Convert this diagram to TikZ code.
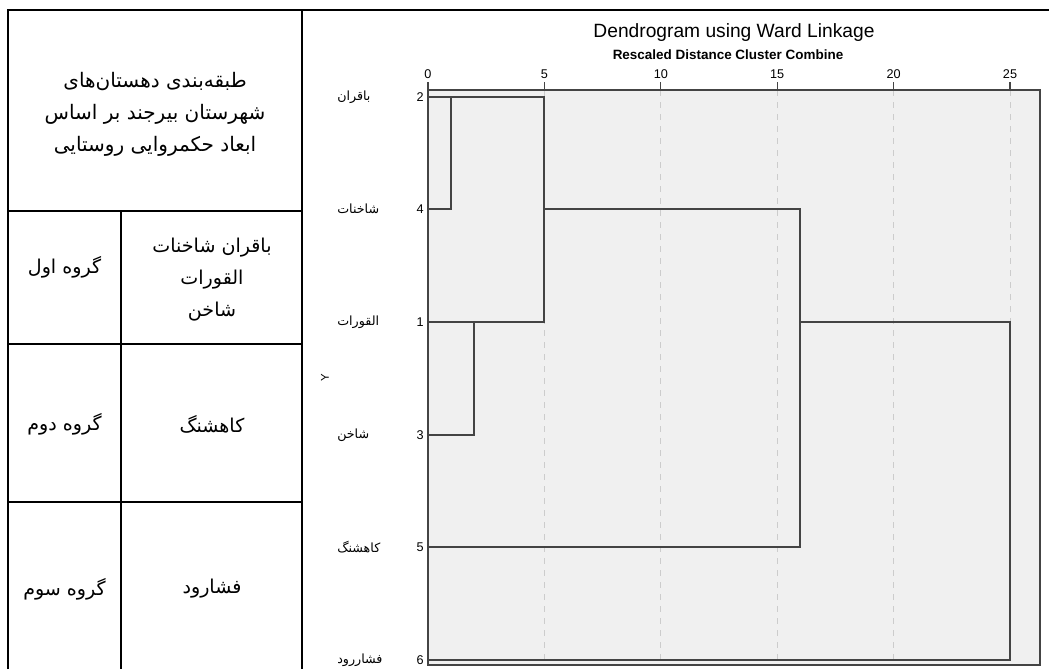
\documentclass[tikz,border=0pt]{standalone}
\usepackage{fontspec}
\setmainfont{Liberation Sans}
\newfontfamily\farsi[Script=Arabic]{DejaVu Sans}
\TeXXeTstate=1
\newcommand{\fa}[1]{{\farsi\beginR #1\endR}}
\definecolor{plotbg}{HTML}{F0F0F0}
\definecolor{linkgray}{HTML}{444444}
\tikzset{
	rule/.style={line width=1.5pt,black},
	cell/.style={align=center,font=\farsi\fontsize{14.3}{24}\selectfont},
	leaf/.style={anchor=west,inner sep=0pt,font=\farsi\fontsize{9.5}{10}\selectfont},
	num/.style={anchor=east,inner sep=0pt,font=\fontsize{9.5}{10}\selectfont},
	link/.style={draw=linkgray,line width=1.1pt},
	gridline/.style={draw=black!20,line width=0.75pt,dash pattern=on 4.5pt off 4.5pt},
}
\begin{document}
\begin{tikzpicture}[x=0.75pt,y=-0.75pt]
	\useasboundingbox (0,0) rectangle (1049,669);
	% table
	\draw[rule] (8,669) -- (8,10) -- (1049,10);
	\draw[rule] (302,10) -- (302,669);
	\draw[rule] (121,211) -- (121,669);
	\foreach \y in {211,344,502} \draw[rule] (8,\y) -- (302,\y);
	\node[cell,font=\farsi\fontsize{15}{24}\selectfont] (head) at (155,114) {\fa{طبقه‌بندی دهستان‌های}\\\fa{شهرستان بیرجند بر اساس}\\\fa{ابعاد حکمروایی روستایی}};
	\node[cell] (g1) at (212,280) {\fa{باقران شاخنات}\\\fa{القورات}\\\fa{شاخن}};
	\node[cell] (n1) at (64.5,267) {\fa{گروه اول}};
	\node[cell] (g2) at (212,424) {\fa{کاهشنگ}};
	\node[cell] (n2) at (64.5,424) {\fa{گروه دوم}};
	\node[cell] (g3) at (212,589) {\fa{فشارود}};
	\node[cell] (n3) at (64.5,589) {\fa{گروه سوم}};
	% dendrogram
	\fill[plotbg] (428,90) rectangle (1040,665);
	\foreach \t in {5,10,...,25} \draw[gridline] (428+23.28*\t,90) -- (428+23.28*\t,665);
	\draw[draw=linkgray,line width=1pt] (428,90) rectangle (1040,665);
	\foreach \t in {0,5,...,25} {
		\draw[draw=linkgray,line width=1pt] (428+23.28*\t,82) -- (428+23.28*\t,90);
		\node[anchor=base,inner sep=0pt,font=\fontsize{9.5}{10}\selectfont] (t\t) at (428+23.28*\t,78) {\t};
	}
	\node[font=\fontsize{14.4}{15}\selectfont] (title) at (734,33) {Dendrogram using Ward Linkage};
	\node[font=\bfseries\fontsize{10.1}{11}\selectfont] (sub) at (728,55) {Rescaled Distance Cluster Combine};
	\node[rotate=90,font=\fontsize{8.5}{9}\selectfont] (yax) at (325,378) {Y};
	\foreach \n/\y/\lab in {2/97/باقران,4/209/شاخنات,1/322/القورات,3/435/شاخن,5/547/کاهشنگ,6/660/فشاررود} {
		\coordinate (l\n) at (428,\y);
		\node[num,anchor=base east] (r\n) at (424,\y+4.5) {\n};
		\node[leaf] (s\n) at (337,\y) {\fa{\lab}};
	}
	\coordinate (k24) at (451,97);
	\coordinate (k13) at (474,322);
	\coordinate (k1234) at (544,97);
	\coordinate (k5) at (800,209);
	\coordinate (k6) at (1010,322);
	\draw[link] (l2) -- (k1234) |- (l1);
	\draw[link] (l4) -| (k24);
	\draw[link] (l3) -| (k13);
	\draw[link] (k1234 |- l4) -- (k5) |- (l5);
	\draw[link] (k5 |- l1) -- (k6) |- (l6);
\end{tikzpicture}
\end{document}
